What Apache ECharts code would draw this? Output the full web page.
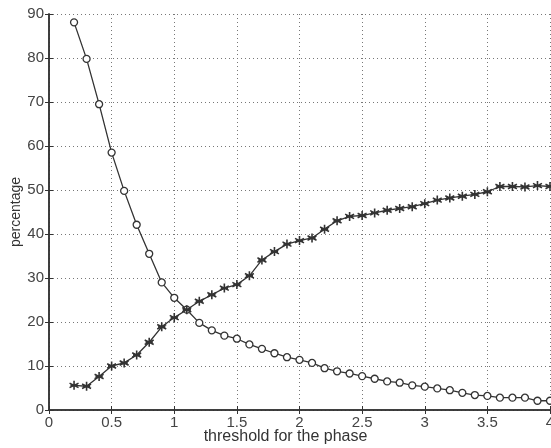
<!DOCTYPE html>
<html>
<head>
<meta charset="utf-8">
<title>threshold for the phase</title>
<script src="https://cdn.jsdelivr.net/npm/echarts@6/dist/echarts.min.js"></script>
<style>
  html, body { margin: 0; padding: 0; background: #fff; }
  #main { width: 551px; height: 448px; }
</style>
</head>
<body>
<div id="main"></div>
<script>
// thresholds 0.2 .. 4.0, step 0.1
var thresholds = [0.2, 0.3, 0.4, 0.5, 0.6, 0.7, 0.8, 0.9, 1.0, 1.1,
  1.2, 1.3, 1.4, 1.5, 1.6, 1.7, 1.8, 1.9, 2.0, 2.1,
  2.2, 2.3, 2.4, 2.5, 2.6, 2.7, 2.8, 2.9, 3.0, 3.1,
  3.2, 3.3, 3.4, 3.5, 3.6, 3.7, 3.8, 3.9, 4.0];

// circle curve (decreasing)
var circleVals = [88.1, 79.8, 69.5, 58.5, 49.8, 42.1, 35.5, 29.0, 25.5, 22.8,
  19.8, 18.1, 16.9, 16.2, 14.9, 13.9, 12.9, 12.0, 11.4, 10.7,
  9.5, 8.8, 8.3, 7.7, 7.1, 6.5, 6.2, 5.6, 5.3, 4.9,
  4.5, 3.9, 3.4, 3.2, 2.8, 2.8, 2.8, 2.1, 2.1];

// star curve (increasing)
var starVals = [5.6, 5.4, 7.6, 10.0, 10.7, 12.5, 15.4, 18.9, 21.0, 22.8,
  24.7, 26.2, 27.7, 28.5, 30.5, 34.1, 36.0, 37.7, 38.5, 39.1,
  41.1, 43.0, 44.0, 44.2, 44.8, 45.4, 45.8, 46.2, 46.9, 47.7,
  48.2, 48.6, 49.0, 49.6, 50.8, 50.8, 50.7, 51.0, 50.8];

function pairs(vals) {
  return thresholds.map(function (t, i) { return [t, vals[i]]; });
}

var ink = '#333';
var tickTxt = { color: '#444', fontFamily: 'Liberation Sans', fontSize: 15 };
var starPath = 'path://M0,-10L0,10M-8.66,-5L8.66,5M-8.66,5L8.66,-5M-7,0L7,0';

var chart = echarts.init(document.getElementById('main'));
chart.setOption({
  backgroundColor: '#fff',
  animation: false,
  grid: { left: 49, right: 1, top: 14, bottom: 38, containLabel: false, outerBoundsMode: 'none' },
  xAxis: [{
    type: 'value', min: 0, max: 4, interval: 0.5,
    name: 'threshold for the phase', nameLocation: 'middle', nameGap: 19,
    nameMoveOverlap: false,
    nameTextStyle: { color: '#333', fontFamily: 'Liberation Sans', fontSize: 16, padding: [0, 28, 0, 0] },
    axisLine: { onZero: false, lineStyle: { color: ink, width: 1.5 } },
    axisTick: { inside: true, length: 4, lineStyle: { color: ink } },
    axisLabel: Object.assign({ margin: 5 }, tickTxt),
    splitLine: { show: true, lineStyle: { color: '#777', type: [1, 3], width: 1 } }
  }, {
    type: 'value', min: 0, max: 4, interval: 0.5, position: 'top',
    axisLine: { show: true, lineStyle: { color: ink, width: 1.5 } },
    axisTick: { inside: true, length: 4, lineStyle: { color: ink } },
    axisLabel: { show: false }, splitLine: { show: false }
  }],
  yAxis: [{
    type: 'value', min: 0, max: 90, interval: 10,
    name: 'percentage', nameLocation: 'middle', nameGap: 26,
    nameMoveOverlap: false,
    nameTextStyle: { color: '#333', fontFamily: 'Liberation Sans', fontSize: 14 },
    axisLine: { show: true, lineStyle: { color: ink, width: 1.5 } },
    axisTick: { show: true, inside: true, length: 4, lineStyle: { color: ink } },
    axisLabel: Object.assign({ margin: 5 }, tickTxt),
    splitLine: { show: true, lineStyle: { color: '#777', type: [1, 3], width: 1 } }
  }, {
    type: 'value', min: 0, max: 90, interval: 10, position: 'right',
    axisLine: { show: true, lineStyle: { color: ink, width: 1.5 } },
    axisTick: { show: true, inside: true, length: 4, lineStyle: { color: ink } },
    axisLabel: { show: false }, splitLine: { show: false }
  }],
  series: [{
    name: 'circles', type: 'line', data: pairs(circleVals),
    symbol: 'circle', symbolSize: 7,
    lineStyle: { color: ink, width: 1.3 },
    itemStyle: { color: '#fff', borderColor: ink, borderWidth: 1.3 }
  }, {
    name: 'stars', type: 'line', data: pairs(starVals),
    symbol: starPath, symbolSize: 9,
    lineStyle: { color: ink, width: 1.3 },
    itemStyle: { color: ink, borderColor: ink, borderWidth: 1.6 }
  }]
});
</script>
</body>
</html>
